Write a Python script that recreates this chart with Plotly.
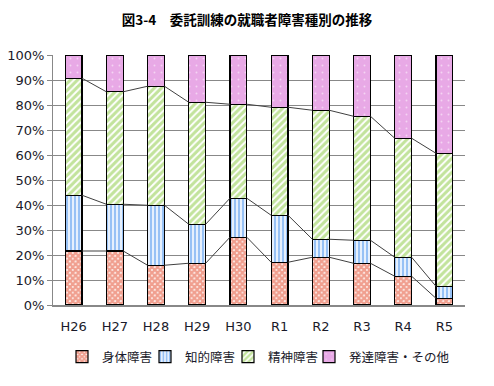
import plotly.graph_objects as go

categories = ["H26", "H27", "H28", "H29", "H30", "R1", "R2", "R3", "R4", "R5"]
physical = [21.6, 21.6, 15.9, 16.7, 27.1, 17.1, 19.1, 16.7, 11.5, 2.7]
intellectual = [22.3, 18.7, 24.0, 15.6, 15.6, 18.8, 7.2, 9.2, 7.6, 4.8]
mental = [46.8, 45.0, 47.6, 48.8, 37.6, 43.2, 51.6, 49.6, 47.6, 53.2]
other = [9.3, 14.7, 12.5, 18.9, 19.7, 20.9, 22.1, 24.5, 33.3, 39.3]
series_names = ["身体障害", "知的障害", "精神障害", "発達障害・その他"]
y_ticks = [0, 10, 20, 30, 40, 50, 60, 70, 80, 90, 100]

x = list(range(len(categories)))
bar_w = 0.41

fig = go.Figure()

styles = [
    dict(color="white", pattern=dict(shape="x", fgcolor="#E2401F", size=4, solidity=0.85)),
    dict(color="white", pattern=dict(shape="|", fgcolor="#2F84EC", size=4, solidity=0.62)),
    dict(color="white", pattern=dict(shape="/", fgcolor="#86C83A", size=5, solidity=0.62)),
    dict(color="#E8A9E6", pattern=dict(shape=".", fgcolor="white", size=7, solidity=0.06)),
]
data = [physical, intellectual, mental, other]
legend_ids = ["legend", "legend2", "legend3", "legend4"]
legend_left = [62, 145, 228, 309]

for name, vals, st, lg in zip(series_names, data, styles, legend_ids):
    fig.add_trace(go.Bar(
        x=x, y=vals, name=name, width=bar_w, legend=lg,
        marker=dict(color=st["color"], pattern=st["pattern"],
                    line=dict(color="black", width=1.2)),
    ))

# series lines between bars
cum = [0] * len(categories)
for k in range(3):
    cum = [c + v for c, v in zip(cum, data[k])]
    lx, ly = [], []
    for i in range(len(categories) - 1):
        lx += [x[i] + bar_w / 2, x[i + 1] - bar_w / 2, None]
        ly += [cum[i], cum[i + 1], None]
    fig.add_trace(go.Scatter(x=lx, y=ly, mode="lines", showlegend=False,
                             line=dict(color="#404040", width=1), hoverinfo="skip"))

legend_common = dict(orientation="h", xref="container", xanchor="left",
                     yref="container", y=1 - 342 / 386, yanchor="top",
                     font=dict(size=12.5, color="#1a1a2a"), traceorder="normal",
                     itemwidth=30, tracegroupgap=0, bgcolor="rgba(0,0,0,0)")

legends = {lg: dict(x=lx0 / 494, **legend_common) for lg, lx0 in zip(legend_ids, legend_left)}

fig.update_layout(
    barmode="stack",
    width=494, height=386,
    margin=dict(l=53, r=29, t=55, b=81),
    paper_bgcolor="white", plot_bgcolor="white",
    title=dict(text="<b>図3-4　委託訓練の就職者障害種別の推移</b>", x=0.5, xanchor="center",
               y=1 - 20 / 386, yanchor="middle", yref="container",
               font=dict(family="Noto Sans CJK JP", size=13.5, color="black")),
    font=dict(family="Noto Sans CJK JP, DejaVu Sans", color="#1a1a2a"),
    showlegend=True,
    **legends,
)
fig.update_xaxes(
    range=[-0.5, len(categories) - 0.5], automargin=False,
    tickmode="array", tickvals=x, ticktext=categories,
    showgrid=False, showline=True, linecolor="#888", linewidth=1.5,
    ticks="", tickfont=dict(family="DejaVu Sans", size=13, color="#1a1a2a"),
    ticklabelstandoff=9,
)
fig.update_yaxes(
    range=[0, 100], tickmode="array", tickvals=y_ticks, automargin=False,
    ticktext=[f"{v}%" for v in y_ticks],
    showgrid=True, gridcolor="#888", gridwidth=1.2,
    showline=True, linecolor="#888", linewidth=1.2,
    ticks="outside", ticklen=5, tickcolor="#888",
    tickfont=dict(family="DejaVu Sans", size=13, color="#1a1a2a"),
    zeroline=False,
)

fig.write_html("out.html", config={"displayModeBar": False},
               post_script="document.body.style.margin='0';")
